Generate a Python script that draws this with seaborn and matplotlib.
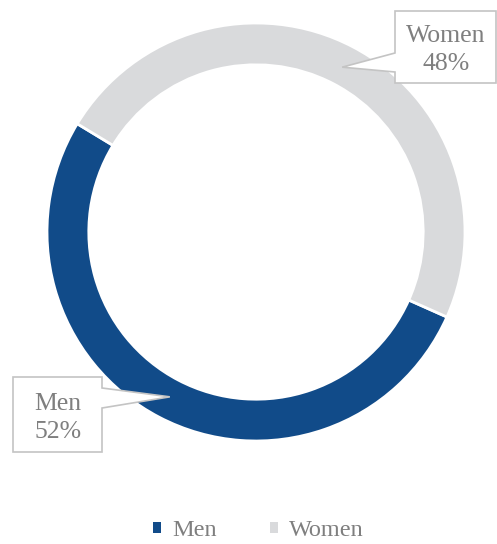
import matplotlib
matplotlib.use("Agg")
import matplotlib.pyplot as plt
from matplotlib.patches import Polygon, Patch
import numpy as np
import seaborn as sns

# Data
categories = ["Men", "Women"]
shares = [52, 48]
colors = ["#114B89", "#D9DADC"]

sns.set_theme(style="white")
plt.rcParams["font.family"] = ["Liberation Serif", "DejaVu Serif"]
palette = sns.color_palette(colors)

W, H, DPI = 497, 544, 100
fig = plt.figure(figsize=(W / DPI, H / DPI), dpi=DPI)
ax = fig.add_axes([47 / W, (H - 441) / H, 418 / W, 418 / H])

ring = 0.2
start = 90 - 114
wedges, _ = ax.pie(shares, colors=palette, startangle=start, counterclock=False,
                   radius=1.0, wedgeprops=dict(width=ring, edgecolor="white", linewidth=2))
ax.set_xlim(-1, 1)
ax.set_ylim(-1, 1)
ax.set_aspect("equal")
ax.axis("off")

text_color = "#7F7F7F"
edge_color = "#C4C4C4"


def px(x, y):
    """top-left pixel coordinates -> display coordinates"""
    return (x, H - y)


def tip_of(wedge, r=0.89):
    mid = np.deg2rad((wedge.theta1 + wedge.theta2) / 2)
    return ax.transData.transform((r * np.cos(mid), r * np.sin(mid)))


fig.canvas.draw()

# Women callout (pointer on the left edge)
tw = tip_of(wedges[1])
women_pts = [px(395, 11), px(496, 11), px(496, 83), px(395, 83), px(395, 72),
             tuple(tw), px(395, 53)]
fig.patches.append(Polygon(women_pts, closed=True, facecolor="white", edgecolor=edge_color,
                           linewidth=1.2, transform=None, figure=fig))
fig.text(446 / W, 1 - 50 / H, f"{categories[1]}\n{shares[1]}%", ha="center", va="center",
         fontsize=18.5, color=text_color, linespacing=1.4)

# Men callout (pointer on the right edge)
tm = tip_of(wedges[0])
men_pts = [px(13, 377), px(102, 377), px(102, 388), tuple(tm), px(102, 408),
           px(102, 452), px(13, 452)]
fig.patches.append(Polygon(men_pts, closed=True, facecolor="white", edgecolor=edge_color,
                           linewidth=1.2, transform=None, figure=fig))
fig.text(58 / W, 1 - 418 / H, f"{categories[0]}\n{shares[0]}%", ha="center", va="center",
         fontsize=18.5, color=text_color, linespacing=1.4)

# Legend
handles = [Patch(facecolor=c, edgecolor="none") for c in palette]
leg = fig.legend(handles, categories, loc="center", bbox_to_anchor=(0.52, 1 - 531 / H),
                 ncol=2, frameon=False, fontsize=17.5, handlelength=0.33, handleheight=0.33,
                 handletextpad=0.45, columnspacing=2.2)
for t in leg.get_texts():
    t.set_color(text_color)

fig.savefig("out.png", dpi=DPI, facecolor="white")
